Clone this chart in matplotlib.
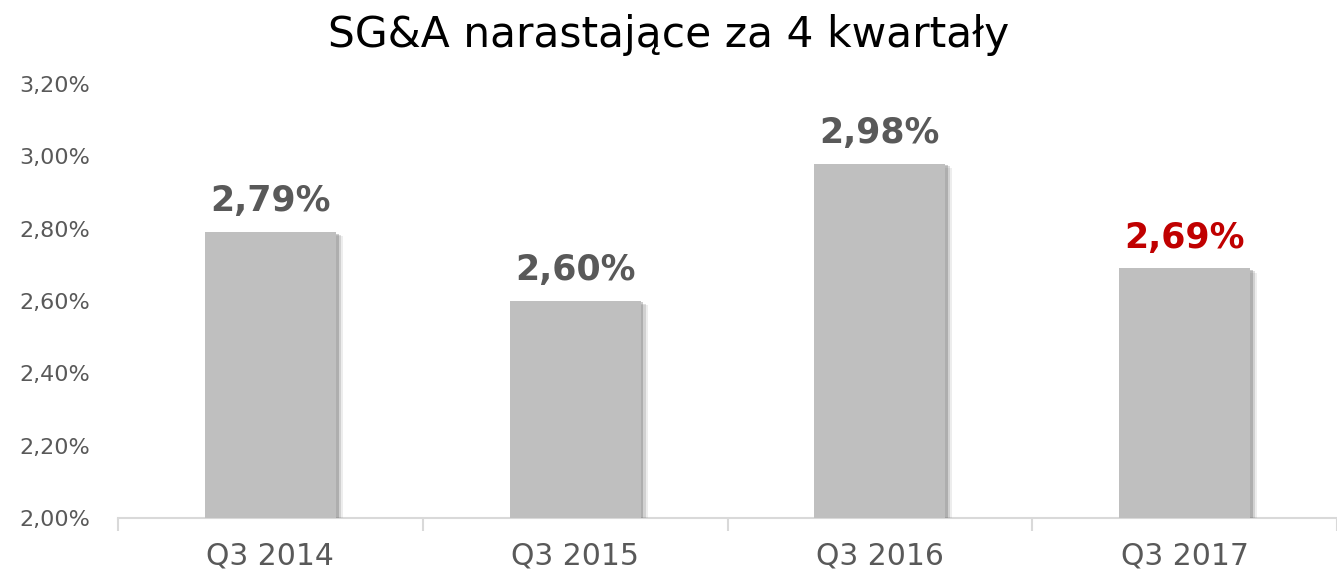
import matplotlib.pyplot as plt
import matplotlib.patheffects as pe
from matplotlib.ticker import FuncFormatter

categories = ["Q3 2014", "Q3 2015", "Q3 2016", "Q3 2017"]
values = [2.79, 2.60, 2.98, 2.69]
label_colors = ["#595959", "#595959", "#595959", "#C00000"]
title = "SG&A narastające za 4 kwartały"

plt.rcParams["font.family"] = ["DejaVu Sans"]
text_grey = "#595959"

fig = plt.figure(figsize=(13.37, 5.82), dpi=100)
ax = fig.add_axes([0.0883, 0.110, 0.9117, 0.7457])

x = range(len(categories))
bars = ax.bar(x, values, width=0.43, bottom=0, color="#BFBFBF", zorder=3)
for b in bars:
    b.set_path_effects([
        pe.SimplePatchShadow(offset=(5, -3), shadow_rgbFace="#8c8c8c", alpha=0.15),
        pe.SimplePatchShadow(offset=(3.5, -2), shadow_rgbFace="#7f7f7f", alpha=0.25),
        pe.SimplePatchShadow(offset=(2, -1), shadow_rgbFace="#6f6f6f", alpha=0.35),
        pe.Normal(),
    ])

for i, v in enumerate(values):
    ax.annotate(f"{v:.2f}%".replace(".", ","), (i, v), xytext=(0, 10),
                textcoords="offset points", ha="center", va="bottom",
                fontsize=25, fontweight="bold", color=label_colors[i])

ax.set_ylim(2.0, 3.2)
ax.set_xlim(-0.5, len(categories) - 0.5)
ax.set_yticks([2.0, 2.2, 2.4, 2.6, 2.8, 3.0, 3.2])
ax.yaxis.set_major_formatter(FuncFormatter(lambda v, p: f"{v:.2f}%".replace(".", ",")))
ax.tick_params(axis="y", length=0, pad=20, labelsize=16, labelcolor=text_grey)

ax.set_xticks(list(x))
ax.set_xticklabels(categories)
ax.set_xticks([i - 0.5 for i in range(len(categories) + 1)], minor=True)
ax.tick_params(axis="x", which="major", length=0, pad=17, labelsize=21.5, labelcolor=text_grey)
ax.tick_params(axis="x", which="minor", length=9, width=1.5, color="#D9D9D9")

for s in ["top", "right", "left"]:
    ax.spines[s].set_visible(False)
ax.spines["bottom"].set_color("#D9D9D9")
ax.spines["bottom"].set_linewidth(1.5)

fig.text(0.5, 0.94, title, ha="center", va="center", fontsize=30.5, color="black")

fig.savefig("out.png", dpi=100)
